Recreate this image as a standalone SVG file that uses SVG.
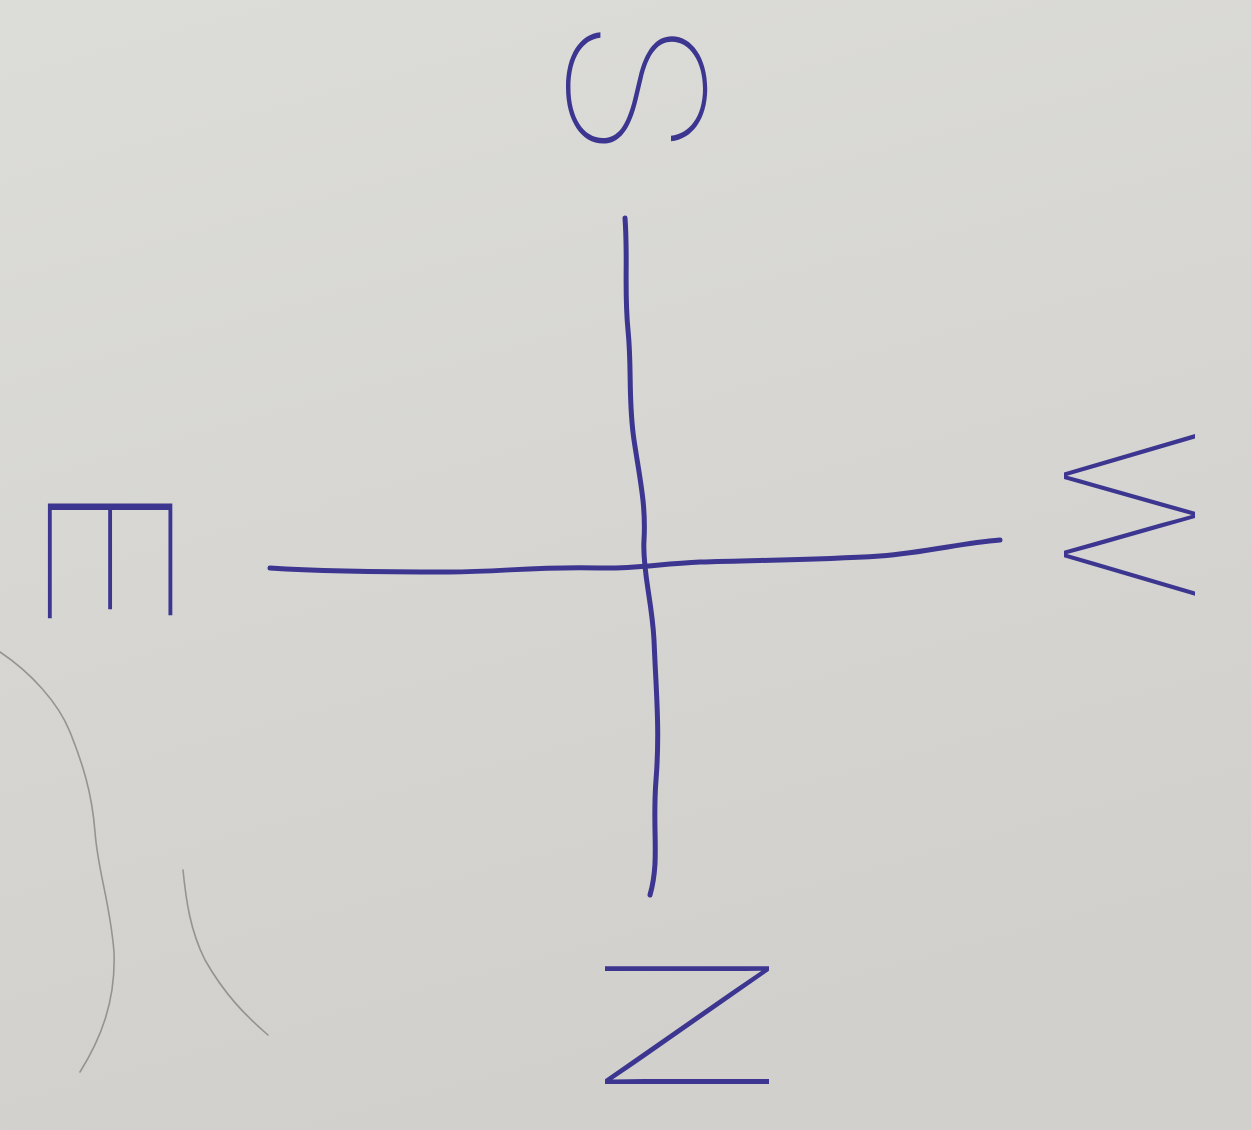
<svg xmlns="http://www.w3.org/2000/svg" width="1251" height="1130" viewBox="0 0 1251 1130">
  <defs>
    <linearGradient id="paper" x1="0" y1="0" x2="0.3" y2="1">
      <stop offset="0" stop-color="#dcdcd8"/>
      <stop offset="1" stop-color="#d1d0cc"/>
    </linearGradient>
    <style>
      .ink { fill: none; stroke: #3c3690; stroke-width: 5; stroke-linecap: round; stroke-linejoin: round; }
      .pencil { fill: none; stroke: #85857f; stroke-width: 1.6; stroke-linecap: round; opacity: 0.8; }
      .letter { font-family: Inter, "Liberation Sans", sans-serif; font-weight: 130; fill: #3c3690; font-size: 180px; text-anchor: middle; dominant-baseline: central; }
    </style>
  </defs>
  <rect x="0" y="0" width="1251" height="1130" fill="url(#paper)"/>

  <g id="pencil-marks">
    <path class="pencil" d="M0,652 C30,672 58,702 70,732 C82,762 92,792 95,832 C98,872 110,902 114,952 C116,1002 100,1040 80,1072"/>
    <path class="pencil" d="M183,870 C186,900 190,930 205,960 C225,995 245,1015 268,1035"/>
  </g>

  <g id="connectors">
    <path id="axis-vertical" class="ink" d="M625,218 C628,260 624,290 628,330 C632,370 628,400 634,440 C640,480 646,505 644,540 C642,570 652,600 654,640 C656,690 660,730 656,780 C652,830 660,860 650,895"/>
    <path id="axis-horizontal" class="ink" d="M270,568 C330,572 390,572 450,572 C500,572 540,566 600,568 C630,569 660,564 700,562 C760,560 820,560 880,556 C930,552 960,543 1000,540"/>
  </g>

  <g id="label-top">
    <text class="letter" transform="translate(637,88) rotate(90) scale(1.35,1.05)">S</text>
  </g>
  <g id="label-left">
    <text class="letter" transform="translate(110,555) rotate(90) scale(1.6,0.95)">E</text>
  </g>
  <g id="label-right">
    <text class="letter" transform="translate(1130,515) rotate(90) scale(1.04,1.0)">W</text>
  </g>
  <g id="label-bottom">
    <text class="letter" transform="translate(687,1025) rotate(90) scale(1.2,1.25)">N</text>
  </g>
</svg>
